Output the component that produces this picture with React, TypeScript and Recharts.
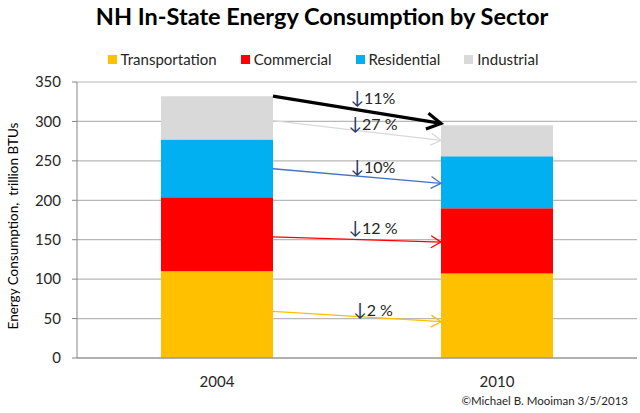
import React from 'react';
import { BarChart, Bar, XAxis, YAxis, CartesianGrid, ReferenceLine } from 'recharts';

// stacked sector totals, trillion BTUs
const categories = ['2004', '2010'];
const transportation = [110, 107];
const commercial = [94, 83];
const residential = [73, 66];
const industrial = [55, 39];
const yTicks = [0, 50, 100, 150, 200, 250, 300, 350];

// change arrows between the two bars (value at 2004 edge -> value at 2010 edge)
const changeLabels = ['11%', '27 %', '10%', '12 %', '2 %'];
const arrowFrom = [332, 301, 240, 153.5, 59];
const arrowTo = [297.5, 276, 221.5, 147, 46];

const FONT = 'Lato, "Open Sans", sans-serif';

const data = categories.map((year, i) => ({
  year,
  transportation: transportation[i],
  commercial: commercial[i],
  residential: residential[i],
  industrial: industrial[i],
}));

const sectors = [
  { key: 'transportation', name: 'Transportation', color: '#ffc000' },
  { key: 'commercial', name: 'Commercial', color: '#ff0000' },
  { key: 'residential', name: 'Residential', color: '#00b0f0' },
  { key: 'industrial', name: 'Industrial', color: '#d9d9d9' },
];

const arrowStyles = [
  { color: '#000000', width: 3.2, head: 14, spread: 8, dy: -13 },
  { color: '#d9d9d9', width: 1.3, head: 10, spread: 6, dy: -7 },
  { color: '#4472c4', width: 1.3, head: 10, spread: 6, dy: -10 },
  { color: '#ff0000', width: 1.3, head: 10, spread: 6, dy: -13 },
  { color: '#ffc000', width: 1.3, head: 10, spread: 6, dy: -8 },
];

const ChangeArrow = (props: any) => {
  const { x1, y1, x2, y2, idx } = props;
  const st = arrowStyles[idx];
  // bars take 40% of the band; band = distance between the two centres
  const half = (x2 - x1) * 0.2;
  const sx = x1 + half;
  const ex = x2 - half;
  const dx = ex - sx;
  const dyl = y2 - y1;
  const len = Math.sqrt(dx * dx + dyl * dyl);
  const ux = dx / len;
  const uy = dyl / len;
  const bx = ex - ux * st.head;
  const by = y2 - uy * st.head;
  const px = -uy * st.spread;
  const py = ux * st.spread;
  const mx = (sx + ex) / 2 + 16;
  const my = (y1 + y2) / 2 + st.dy;
  return (
    <g>
      <line x1={sx} y1={y1} x2={ex} y2={y2} stroke={st.color} strokeWidth={st.width} />
      <polyline
        points={`${bx + px},${by + py} ${ex},${y2} ${bx - px},${by - py}`}
        fill="none"
        stroke={st.color}
        strokeWidth={st.width}
      />
      <text x={mx} y={my} textAnchor="middle" dominantBaseline="central" fontFamily={FONT} fontSize={16}>
        <tspan fill="#1f3864" fontSize={18}>↓</tspan>
        <tspan fill="#262626">{changeLabels[idx]}</tspan>
      </text>
    </g>
  );
};

export default function App() {
  return (
    <div style={{ position: 'absolute', left: 0, top: 0, width: 640, height: 413, background: '#fff', fontFamily: FONT }}>
      <div
        style={{
          position: 'absolute', left: 0, top: 2, width: 644, textAlign: 'center',
          fontSize: 23.5, fontWeight: 700, color: '#000',
        }}
      >
        NH In-State Energy Consumption by Sector
      </div>
      <div
        style={{
          position: 'absolute', left: 0, top: 50, width: 640, display: 'flex', justifyContent: 'center',
          paddingLeft: 30, boxSizing: 'border-box', fontSize: 15, color: '#262626',
        }}
      >
        {sectors.map((s) => (
          <div key={s.key} style={{ display: 'flex', alignItems: 'center', marginRight: 24 }}>
            <span style={{ width: 9, height: 9, background: s.color, marginRight: 4, display: 'inline-block' }} />
            <span>{s.name}</span>
          </div>
        ))}
      </div>
      <div
        style={{
          position: 'absolute', left: 13, top: 226, transform: 'translate(-50%, -50%) rotate(-90deg)',
          whiteSpace: 'pre', fontSize: 13.5, color: '#000',
        }}
      >
        {'Energy Consumption,  trillion BTUs'}
      </div>
      <div style={{ position: 'absolute', right: 12, top: 394, fontSize: 11.5, color: '#262626' }}>
        ©Michael B. Mooiman 3/5/2013
      </div>
      <BarChart
        width={640}
        height={413}
        data={data}
        margin={{ top: 82, right: 3, bottom: 25, left: 0 }}
        barCategoryGap="30%"
      >
        <CartesianGrid vertical={false} stroke="#b8b8b8" strokeWidth={1.2} />
        <XAxis
          dataKey="year"
          height={30}
          tickLine={false}
          axisLine={{ stroke: '#868686' }}
          tick={{ fontSize: 15, fill: '#262626', fontFamily: FONT }}
          tickMargin={12}
        />
        <YAxis
          width={77}
          domain={[0, 350]}
          ticks={yTicks}
          interval={0}
          axisLine={{ stroke: '#868686' }}
          tickLine={{ stroke: '#868686' }}
          tickSize={5}
          tickMargin={11}
          tick={{ fontSize: 15, fill: '#262626', fontFamily: FONT }}
        />
        {sectors.map((s) => (
          <Bar key={s.key} dataKey={s.key} name={s.name} stackId="a" fill={s.color} isAnimationActive={false} />
        ))}
        {changeLabels.map((_, i) => (
          <ReferenceLine
            key={i}
            ifOverflow="visible"
            segment={[
              { x: categories[0], y: arrowFrom[i] },
              { x: categories[1], y: arrowTo[i] },
            ]}
            shape={(p: any) => <ChangeArrow {...p} idx={i} />}
          />
        ))}
      </BarChart>
    </div>
  );
}
